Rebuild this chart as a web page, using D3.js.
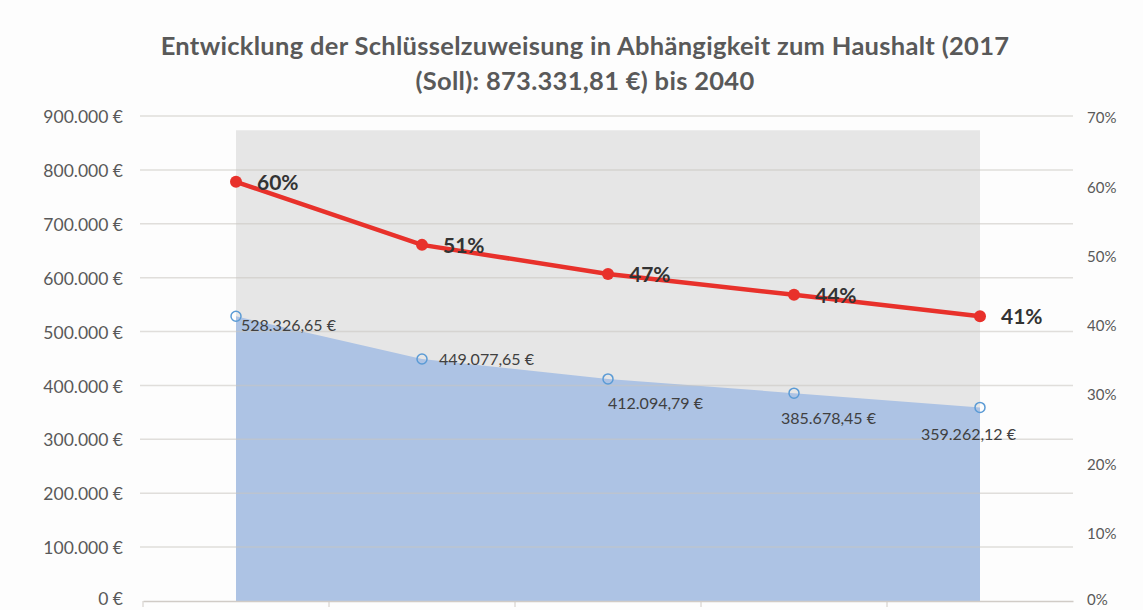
<!DOCTYPE html>
<html lang="de">
<head>
<meta charset="utf-8">
<title>Schlüsselzuweisung</title>
<script src="https://cdn.jsdelivr.net/npm/d3@7"></script>
<style>
  body { margin: 0; background: #fdfdfd; }
  svg { font-family: Lato, "Open Sans", sans-serif; }
</style>
</head>
<body>
<script>
// data
let categories = ["A", "B", "C", "D", "E"];   // x labels are cut off in the source
let zuweisung = [528326.65, 449077.65, 412094.79, 385678.45, 359262.12];
let soll = 873331.81;
let anteil = [0.605, 0.514, 0.472, 0.442, 0.411];
let anteilLabels = ["60%", "51%", "47%", "44%", "41%"];
let euroTicks = [0, 100000, 200000, 300000, 400000, 500000, 600000, 700000, 800000, 900000];
let pctTicks = [0, 0.1, 0.2, 0.3, 0.4, 0.5, 0.6, 0.7];
let titleLines = ["Entwicklung der Schlüsselzuweisung in Abhängigkeit zum Haushalt (2017",
                  "(Soll): 873.331,81 €) bis 2040"];

let w = 1143, h = 610;
let plotLeft = 143, plotRight = 1073, plotTop = 116, plotBottom = 601;

let fmtEuro = (v) => {
  let s = v.toFixed(2).split(".");
  let intPart = s[0].replace(/\B(?=(\d{3})+(?!\d))/g, ".");
  return intPart + "," + s[1] + " €";
};
let fmtTick = (v) => (v === 0 ? "0" : String(v).replace(/\B(?=(\d{3})+(?!\d))/g, ".")) + " €";

let svg = d3.select("body").append("svg")
  .attr("width", w)
  .attr("height", h);

let xScale = d3.scaleBand()
  .domain(categories)
  .range([plotLeft, plotRight]);
let xc = (d) => xScale(d) + xScale.bandwidth() / 2;

let yScale = d3.scaleLinear()
  .domain([0, 900000])
  .range([plotBottom, plotTop]);

let pScale = d3.scaleLinear()
  .domain([0, 0.7])
  .range([plotBottom, plotTop]);

// title
svg.selectAll(".title")
  .data(titleLines)
  .enter()
  .append("text")
  .attr("x", 585)
  .attr("y", (d, i) => 55 + i * 35)
  .attr("text-anchor", "middle")
  .attr("font-size", 25.5)
  .attr("letter-spacing", 0.3)
  .attr("font-weight", "bold")
  .attr("fill", "#595959")
  .text((d) => d);

// soll area (grey)
let sollArea = d3.area()
  .x((d) => xc(d))
  .y0(yScale(0))
  .y1(yScale(soll));
svg.append("path")
  .datum(categories)
  .attr("d", sollArea)
  .attr("fill", "#e6e6e6");

// zuweisung area (blue)
let blueArea = d3.area()
  .x((d, i) => xc(categories[i]))
  .y0(yScale(0))
  .y1((d) => yScale(d));
svg.append("path")
  .datum(zuweisung)
  .attr("d", blueArea)
  .attr("fill", "#adc3e4");

// gridlines, drawn over the areas like in the source
svg.append("g")
  .selectAll("line")
  .data(euroTicks.slice(1))
  .enter()
  .append("line")
  .attr("x1", plotLeft - 3)
  .attr("x2", plotRight)
  .attr("y1", (d) => yScale(d))
  .attr("y2", (d) => yScale(d))
  .attr("stroke", "#c8c4c0")
  .attr("stroke-opacity", 0.55)
  .attr("stroke-width", 1.5);

// x axis
let xAxis = d3.axisBottom(xScale).tickSize(0).tickFormat("");
let gx = svg.append("g")
  .attr("transform", "translate(0," + plotBottom + ")")
  .call(xAxis);
gx.select(".domain").attr("stroke", "#d0cbc6").attr("stroke-width", 1.5);
gx.selectAll(".sep")
  .data(categories)
  .enter()
  .append("line")
  .attr("x1", (d) => xScale(d))
  .attr("x2", (d) => xScale(d))
  .attr("y1", 0)
  .attr("y2", 6)
  .attr("stroke", "#d0cbc6");

// left axis
let yAxis = d3.axisLeft(yScale).tickValues(euroTicks).tickSize(0).tickFormat(fmtTick);
let gy = svg.append("g")
  .attr("transform", "translate(123,1)")
  .call(yAxis);
gy.select(".domain").remove();
gy.selectAll("text")
  .attr("font-size", 17.5)
  .attr("font-family", "Lato, sans-serif")
  .attr("fill", "#595959")
  .attr("x", 0)
  .attr("y", (d) => (d === 0 ? -3 : 0));

// right axis
let pAxis = d3.axisRight(pScale).tickValues(pctTicks).tickSize(0).tickFormat(d3.format(".0%"));
let gp = svg.append("g")
  .attr("transform", "translate(1087,2)")
  .call(pAxis);
gp.select(".domain").remove();
gp.selectAll("text")
  .attr("font-size", 15)
  .attr("font-family", "Lato, sans-serif")
  .attr("fill", "#595959")
  .attr("x", 0)
  .attr("y", (d) => (d === 0 ? -3 : 0));

// blue markers + labels
let euroOffsets = [[5, 15], [17, 6], [0, 30], [-13, 31], [-59, 33]];
svg.selectAll(".bm")
  .data(zuweisung)
  .enter()
  .append("circle")
  .attr("cx", (d, i) => xc(categories[i]))
  .attr("cy", (d) => yScale(d))
  .attr("r", 5)
  .attr("fill", "none")
  .attr("stroke", "#5b9bd5")
  .attr("stroke-width", 1.5);
svg.selectAll(".bl")
  .data(zuweisung)
  .enter()
  .append("text")
  .attr("x", (d, i) => xc(categories[i]) + euroOffsets[i][0])
  .attr("y", (d, i) => yScale(d) + euroOffsets[i][1])
  .attr("font-size", 16)
  .attr("fill", "#404040")
  .text((d) => fmtEuro(d));

// red line
let line = d3.line()
  .x((d, i) => xc(categories[i]))
  .y((d) => pScale(d));
svg.append("path")
  .datum(anteil)
  .attr("d", line)
  .attr("fill", "none")
  .attr("stroke", "#e8312b")
  .attr("stroke-width", 4.5);
svg.selectAll(".rm")
  .data(anteil)
  .enter()
  .append("circle")
  .attr("cx", (d, i) => xc(categories[i]))
  .attr("cy", (d) => pScale(d))
  .attr("r", 6)
  .attr("fill", "#e8312b");
svg.selectAll(".rl")
  .data(anteil)
  .enter()
  .append("text")
  .attr("x", (d, i) => xc(categories[i]) + 21)
  .attr("y", (d) => pScale(d) + 8)
  .attr("font-size", 21)
  .attr("font-weight", "bold")
  .attr("fill", "#333333")
  .text((d, i) => anteilLabels[i]);
</script>
</body>
</html>
